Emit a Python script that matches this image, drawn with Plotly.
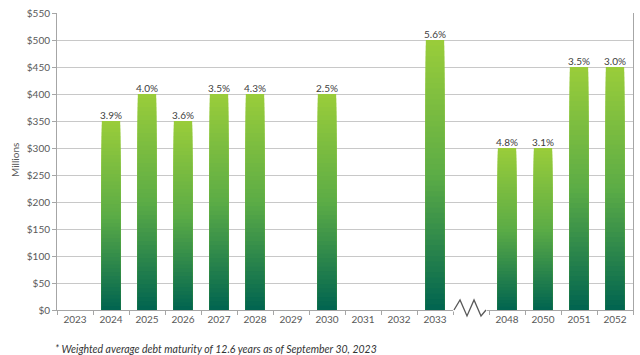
import plotly.graph_objects as go

categories = ["2023", "2024", "2025", "2026", "2027", "2028", "2029", "2030",
              "2031", "2032", "2033", " ", "2048", "2050", "2051", "2052"]
values = [0, 350, 400, 350, 400, 400, 0, 400, 0, 0, 500, 0, 300, 300, 450, 450]
rate_labels = ["", "3.9%", "4.0%", "3.6%", "3.5%", "4.3%", "", "2.5%", "", "",
               "5.6%", "", "4.8%", "3.1%", "3.5%", "3.0%"]
y_ticks = list(range(0, 551, 50))
y_tick_text = ["$%d" % v for v in y_ticks]
footnote = "* Weighted average debt maturity of 12.6 years as of September 30, 2023"

FONT = "Lato, 'Open Sans', sans-serif"
top_c = (154, 205, 58)
mid_c = (92, 172, 70)
bot_c = (0, 100, 80)


def grad(t):
    # t: 0 bottom -> 1 top
    if t >= 0.5:
        a, b, u = mid_c, top_c, (t - 0.5) / 0.5
    else:
        a, b, u = bot_c, mid_c, t / 0.5
    return "rgb(%d,%d,%d)" % tuple(round(a[i] + (b[i] - a[i]) * u) for i in range(3))


fig = go.Figure()
N = 50
for k in range(N, 0, -1):
    frac = k / N
    fig.add_trace(go.Bar(
        x=categories,
        y=[v * frac for v in values],
        width=0.51,
        marker=dict(color=grad(frac - 0.5 / N), line=dict(width=0)),
        hoverinfo="skip",
        showlegend=False,
    ))

fig.add_trace(go.Scatter(
    x=categories, y=values, mode="text", text=rate_labels,
    textposition="top center",
    textfont=dict(family=FONT, size=10, color="#404040"),
    hoverinfo="skip", showlegend=False, cliponaxis=False,
))

L, R, T, B = 57, 7, 13, 45
W, H = 640, 355
pw, ph = W - L - R, H - T - B


def dx(px):
    return (px - L) / pw


def dy(py):
    return (H - B - py) / ph


zig = [(454, 310), (460, 300), (467, 316), (474, 300), (481, 316), (486, 310)]
path = "M " + " L ".join("%.4f,%.4f" % (dx(x), dy(y)) for x, y in zig)

fig.update_layout(
    width=W, height=H,
    margin=dict(l=L, r=R, t=T, b=B),
    barmode="overlay",
    bargap=0.48,
    plot_bgcolor="white", paper_bgcolor="white",
    font=dict(family=FONT, size=10, color="#595959"),
    xaxis=dict(
        type="category", categoryorder="array", categoryarray=categories,
        showline=True, linecolor="#A6A6A6", linewidth=1,
        ticks="outside", tickson="boundaries", ticklen=4, tickcolor="#A6A6A6",
        showgrid=False, tickfont=dict(size=10, color="#595959"),
        range=[-0.5, len(categories) - 0.5],
    ),
    yaxis=dict(
        range=[0, 550], tickvals=y_ticks, ticktext=y_tick_text,
        showline=True, linecolor="#A6A6A6", linewidth=1, mirror=True,
        ticks="outside", ticklen=4, tickcolor="#A6A6A6",
        showgrid=True, gridcolor="#C8C8C8", gridwidth=1,
        zeroline=False, tickfont=dict(size=10, color="#595959"),
    ),
    shapes=[
        dict(type="line", xref="x domain", yref="y domain",
             x0=dx(453), x1=dx(487), y0=0, y1=0,
             line=dict(color="white", width=3)),
        dict(type="path", xref="x domain", yref="y domain", path=path,
             line=dict(color="#595959", width=1.3)),
    ],
    annotations=[
        dict(text="Millions", xref="paper", yref="paper", x=dx(15), y=dy(160),
             textangle=-90, showarrow=False, xanchor="center", yanchor="middle",
             font=dict(size=10, color="#595959")),
        dict(text="<i>" + footnote + "</i>", xref="paper", yref="paper",
             x=dx(53), y=dy(349), showarrow=False, xanchor="left", yanchor="middle",
             font=dict(size=10.5, color="#333333")),
    ],
)

fig.write_html("out.html", config={"displayModeBar": False},
               post_script="document.body.style.margin='0';document.body.style.padding='0';")
